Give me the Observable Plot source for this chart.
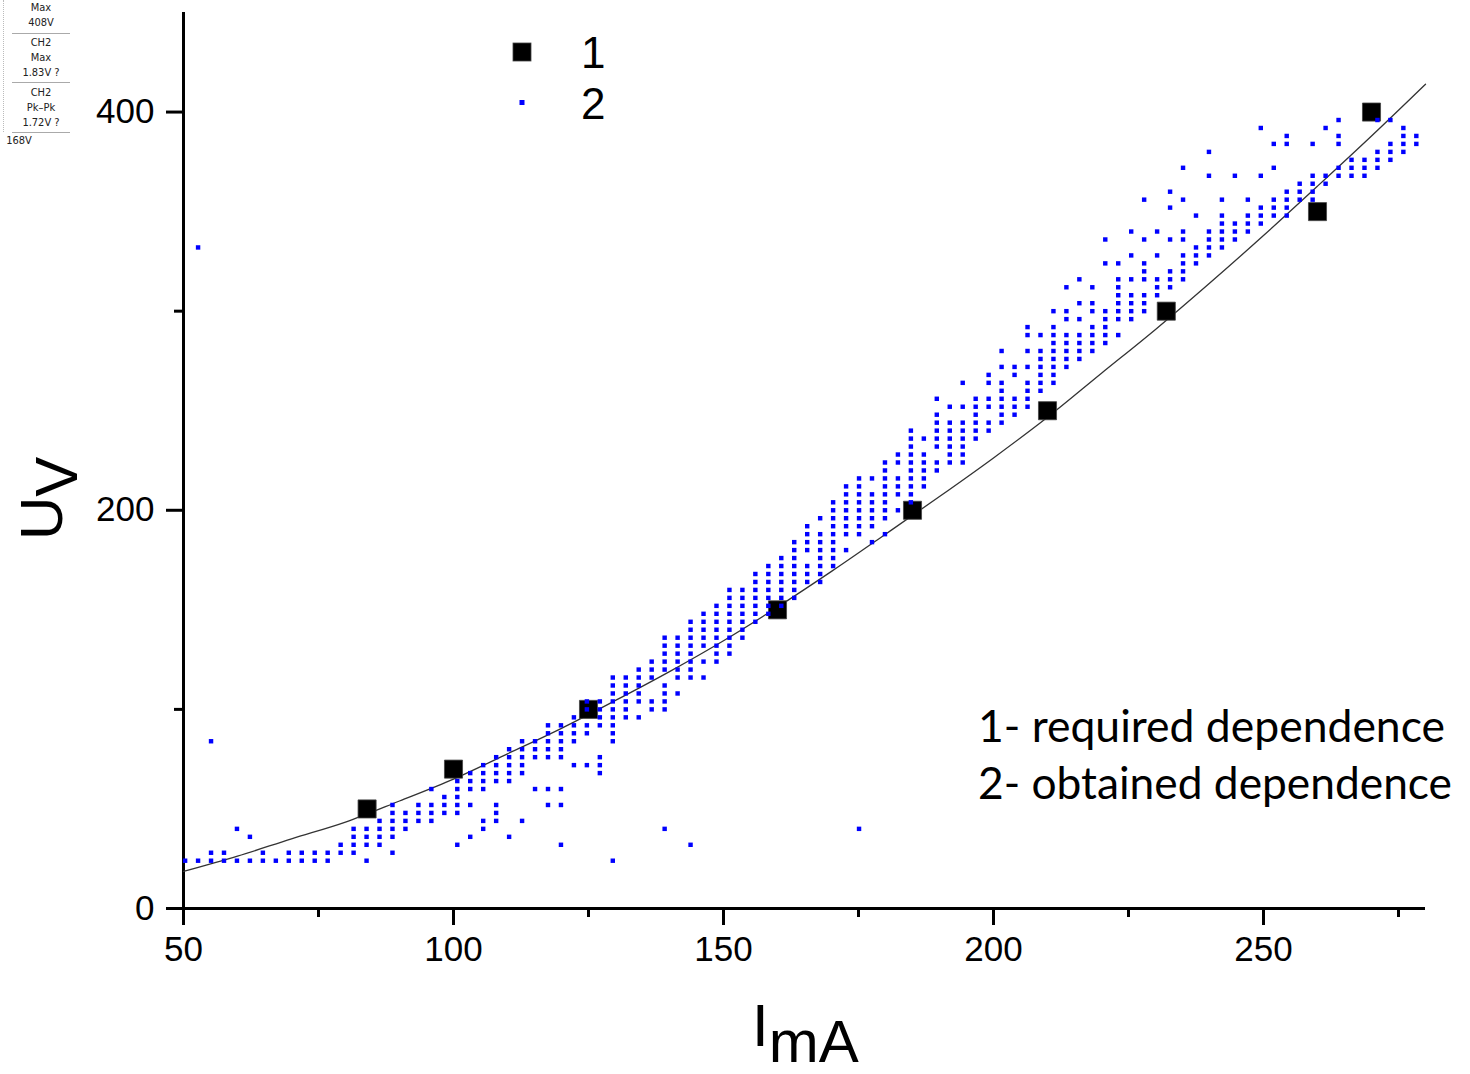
<!DOCTYPE html>
<html>
<head>
<meta charset="utf-8">
<script src="https://cdn.jsdelivr.net/npm/d3@7"></script>
<script src="https://cdn.jsdelivr.net/npm/@observablehq/plot@0.6"></script>
<style>
  html, body { margin: 0; padding: 0; background: #fff; }
  #wrap { position: relative; width: 1470px; height: 1074px; overflow: hidden; }
  .osc { position: absolute; font-family: "DejaVu Sans Condensed", "DejaVu Sans", sans-serif; font-size: 11px; color: #222; text-align: center; width: 58px; left: 12px; line-height: 15px; }
  .oscline { position: absolute; left: 12px; width: 58px; height: 0; border-top: 1px solid #aaa; }
</style>
</head>
<body>
<div id="wrap"></div>
<script>
// ---- series 2: obtained dependence (grid columns of dots) ----
const colX = [50.3, 52.7, 55.1, 57.5, 59.9, 62.3, 64.7, 67.1, 69.5, 71.9,
  74.3, 76.7, 79.1, 81.5, 83.9, 86.3, 88.7, 91.1, 93.5, 95.9,
  98.3, 100.7, 103.1, 105.5, 107.9, 110.3, 112.7, 115.1, 117.5, 119.9,
  122.3, 124.7, 127.1, 129.5, 131.9, 134.3, 136.7, 139.1, 141.5, 143.9,
  146.3, 148.7, 151.1, 153.5, 155.9, 158.3, 160.7, 163.1, 165.5, 167.9,
  170.3, 172.7, 175.1, 177.5, 179.9, 182.3, 184.7, 187.1, 189.5, 191.9,
  194.3, 196.7, 199.1, 201.5, 203.9, 206.3, 208.7, 211.1, 213.5, 215.9,
  218.3, 220.7, 223.1, 225.5, 227.9, 230.3, 232.7, 235.1, 237.5, 239.9,
  242.3, 244.7, 247.1, 249.5, 251.9, 254.3, 256.7, 259.1, 261.5, 263.9,
  266.3, 268.7, 271.1, 273.5, 275.9, 278.3];
const colU = [
  [24], [24, 332], [24, 28, 84], [24, 28], [24, 40], [24, 36], [24, 28], [24], [24, 28], [24, 28],
  [24, 28], [24, 28], [28, 32], [28, 32, 36, 40], [24, 32, 36, 40], [32, 36, 40, 44], [28, 36, 40, 44, 48, 52], [40, 44, 48], [44, 48, 52], [44, 48, 52, 60],
  [48, 52, 56], [32, 48, 52, 56, 60, 64], [36, 52, 60, 64, 68], [40, 44, 60, 64, 68, 72], [44, 48, 52, 64, 68, 72, 76], [36, 64, 68, 72, 76, 80], [44, 68, 72, 76, 80, 84], [60, 76, 80, 84], [52, 60, 76, 80, 84, 88, 92], [32, 52, 60, 76, 80, 84, 88, 92],
  [72, 84, 88, 92, 96], [72, 88, 92, 100, 104], [68, 72, 76, 92, 96, 100, 104], [24, 84, 88, 92, 96, 100, 104, 108, 112, 116], [96, 100, 104, 108, 112, 116], [96, 104, 108, 112, 116, 120], [100, 104, 116, 120, 124], [40, 100, 104, 108, 112, 120, 124, 128, 132, 136], [108, 116, 120, 124, 128, 132, 136], [32, 116, 120, 124, 128, 132, 136, 140, 144],
  [116, 124, 132, 136, 140, 144, 148], [124, 128, 132, 136, 140, 144, 148, 152], [128, 132, 136, 140, 144, 148, 152, 156, 160], [136, 140, 144, 148, 152, 156, 160], [144, 148, 152, 156, 160, 164, 168], [148, 152, 156, 160, 164, 168, 172], [152, 156, 160, 164, 168, 172, 176], [156, 160, 164, 168, 172, 176, 180, 184], [164, 168, 172, 180, 184, 188, 192], [164, 168, 172, 176, 180, 184, 188, 196],
  [172, 176, 180, 184, 188, 192, 196, 200, 204], [180, 188, 192, 196, 200, 204, 208, 212], [40, 188, 192, 196, 200, 204, 208, 212, 216], [184, 192, 196, 200, 204, 208, 216], [188, 196, 200, 204, 208, 212, 216, 220, 224], [200, 208, 212, 216, 224, 228], [204, 208, 212, 216, 220, 224, 228, 232, 236, 240], [212, 216, 220, 224, 228, 236], [220, 224, 232, 236, 240, 244, 248, 256], [224, 228, 232, 236, 240, 244, 252],
  [224, 228, 232, 236, 240, 244, 252, 264], [236, 240, 244, 248, 252, 256], [240, 244, 252, 256, 264, 268], [244, 248, 252, 256, 260, 264, 272, 280], [248, 252, 256, 268, 272], [252, 256, 260, 264, 272, 280, 288, 292], [260, 264, 268, 272, 276, 280, 288], [264, 268, 272, 276, 280, 284, 288, 292, 300], [272, 276, 280, 284, 288, 296, 300, 312], [276, 280, 284, 288, 296, 304, 316],
  [280, 284, 288, 292, 300, 304, 312], [284, 288, 292, 296, 300, 324, 336], [288, 296, 300, 304, 308, 312, 316, 324], [296, 300, 304, 308, 316, 328, 340], [300, 304, 308, 316, 320, 324, 336, 356], [308, 312, 316, 328, 340], [312, 316, 320, 336, 352, 360], [316, 320, 324, 328, 336, 340, 356, 372], [324, 328, 332, 348], [328, 332, 336, 340, 368, 380],
  [332, 336, 340, 344, 348, 356], [336, 340, 344, 368], [340, 344, 348, 356], [344, 348, 352, 368, 392], [348, 352, 356, 372, 384], [348, 352, 356, 360, 384, 388], [356, 360, 364], [356, 360, 364, 368, 384], [364, 368, 392], [368, 372, 384, 388, 396],
  [368, 372, 376], [368, 372, 376], [372, 376, 380, 396], [376, 380, 384, 396], [380, 384, 388, 392], [384, 388]
];

// ---- series 1: required dependence ----
const reqI = [84, 100, 125, 160, 185, 210, 232, 260, 270];
const reqU = [50, 70, 100, 150, 200, 250, 300, 350, 400];

// ---- fitted curve through required dependence ----
const fitI = [50, 60, 70, 80, 90, 100, 110, 120, 130, 140, 150, 160, 170, 180, 190, 200, 210, 220, 230, 240, 250, 260, 270, 280];
const fitU = [18.6, 26.3, 35, 43.4, 54, 65, 77.7, 90.5, 104.5, 119, 134.5, 151.4, 169.3, 188, 206.9, 226.3, 246.7, 268.8, 290.8, 314, 338, 362.8, 388, 414];

// ---- ticks ----
const xMajor = [50, 100, 150, 200, 250];
const xMinor = [75, 125, 175, 225, 275];
const yMajor = [0, 200, 400];
const yMinor = [100, 300];

const obtained = colX.flatMap((x, i) => colU[i].map(u => ({I: x, U: u})));
const required = reqI.map((x, i) => ({I: x, U: reqU[i]}));
const fit = fitI.map((x, i) => ({I: x, U: fitU[i]}));

const svg = Plot.plot({
  width: 1470,
  height: 1074,
  marginLeft: 183,
  marginRight: 45,
  marginTop: 12,
  marginBottom: 166,
  style: {fontFamily: "'Liberation Sans', Arial, sans-serif", background: "white", color: "black"},
  x: {domain: [50, 280]},
  y: {domain: [0, 450]},
  marks: [
    Plot.axisX({ticks: xMajor, tickSize: 17, tickPadding: 11, strokeWidth: 3, fontSize: 35, label: null}),
    Plot.axisX({ticks: xMinor, tickSize: 9, strokeWidth: 3, tickFormat: () => "", label: null}),
    Plot.axisY({ticks: yMajor, tickSize: 17, tickPadding: 12, strokeWidth: 3, fontSize: 35, label: null}),
    Plot.axisY({ticks: yMinor, tickSize: 9, strokeWidth: 3, tickFormat: () => "", label: null}),
    Plot.ruleX([50], {y1: 0, y2: 450, strokeWidth: 3, stroke: "black"}),
    Plot.ruleY([0], {x1: 50, x2: 280, strokeWidth: 3, stroke: "black"}),
    Plot.line(fit, {x: "I", y: "U", stroke: "#333", strokeWidth: 1.3, curve: "catmull-rom"}),
    Plot.dot(required, {x: "I", y: "U", symbol: "square", r: 10.2, fill: "black", stroke: "#444", strokeWidth: 0.8}),
    Plot.dot(obtained, {x: "I", y: "U", symbol: "square", r: 2.5, fill: "#0000ff"})
  ]
});

const wrap = document.getElementById("wrap");
wrap.appendChild(svg);

const s = d3.select(svg);
const font = "'Liberation Sans', Arial, sans-serif";

// axis titles
const xl = s.append("text").attr("x", 752).attr("y", 1046).attr("font-size", 60).attr("font-family", font)
  .attr("fill", "black").attr("text-anchor", "start");
xl.append("tspan").text("I");
xl.append("tspan").attr("dy", 16).text("mA");

const yl = s.append("text").attr("transform", "translate(62,540) rotate(-90)").attr("font-size", 60).attr("font-family", font)
  .attr("fill", "black").attr("text-anchor", "start");
yl.append("tspan").text("U");
yl.append("tspan").attr("dy", 15).text("V");

// legend
s.append("rect").attr("x", 513).attr("y", 43).attr("width", 18).attr("height", 18).attr("fill", "black").attr("stroke", "#444").attr("stroke-width", 0.8);
s.append("rect").attr("x", 519.5).attr("y", 100).attr("width", 5).attr("height", 5).attr("fill", "#0000ff");
s.append("text").attr("x", 581).attr("y", 68).attr("font-size", 44).attr("font-family", font).attr("text-anchor", "start").text("1");
s.append("text").attr("x", 581).attr("y", 119).attr("font-size", 44).attr("font-family", font).attr("text-anchor", "start").text("2");

// annotation
const afont = "Lato, 'Open Sans', sans-serif";
s.append("text").attr("x", 978).attr("y", 742).attr("font-size", 44).attr("font-family", afont).attr("text-anchor", "start")
  .attr("textLength", 467).attr("lengthAdjust", "spacingAndGlyphs").text("1- required dependence");
s.append("text").attr("x", 978).attr("y", 799).attr("font-size", 44).attr("font-family", afont).attr("text-anchor", "start")
  .attr("textLength", 474).attr("lengthAdjust", "spacingAndGlyphs").text("2- obtained dependence");

// oscilloscope fragment in top-left corner
const oscLines = [["Max", 0], ["408V", 15], ["CH2", 35], ["Max", 50], ["1.83V ?", 65], ["CH2", 85], ["Pk\u2013Pk", 100], ["1.72V ?", 115]];
oscLines.forEach(([t, top]) => {
  const d = document.createElement("div");
  d.className = "osc"; d.style.top = top + "px"; d.textContent = t; wrap.appendChild(d);
});
[33, 82, 132].forEach(top => {
  const d = document.createElement("div");
  d.className = "oscline"; d.style.top = top + "px"; wrap.appendChild(d);
});
const lastV = document.createElement("div");
lastV.className = "osc"; lastV.style.left = "0px"; lastV.style.width = "38px"; lastV.style.top = "133px"; lastV.textContent = "168V";
wrap.appendChild(lastV);
const ruler = document.createElement("div");
ruler.style.cssText = "position:absolute;left:3px;top:0;width:0;height:132px;border-left:1px dotted #bbb;";
wrap.appendChild(ruler);
</script>
</body>
</html>
